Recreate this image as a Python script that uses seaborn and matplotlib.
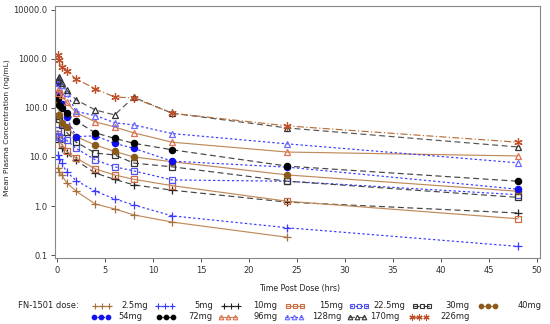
import numpy as np
import pandas as pd
import matplotlib
matplotlib.use("Agg")
import matplotlib.pyplot as plt
import seaborn as sns
from matplotlib.lines import Line2D

sns.set_style("white")
plt.rcParams['font.family'] = ['DejaVu Sans']

times = [0.083, 0.25, 0.5, 1, 2, 4, 6, 8, 12, 24, 48]
doses = ["2.5mg", "5mg", "10mg", "15mg", "22.5mg", "30mg", "40mg",
         "54mg", "72mg", "96mg", "128mg", "170mg", "226mg"]

c_2_5 = [6, 5, 4.3, 3.0, 2.0, 1.1, 0.87, 0.66, 0.47, 0.23, np.nan]
c_5 = [11, 9, 7.5, 5, 3.3, 2.0, 1.4, 1.05, 0.63, 0.36, 0.15]
c_10 = [25, 20, 15, 12, 8.5, 4.7, 3.5, 2.7, 2.1, 1.2, 0.72]
c_15 = [30, 25, 18, 13, 9.5, 5.7, 4.3, 3.5, 2.6, 1.25, 0.55]
c_22_5 = [35, 26, 24, 22, 15, 8.7, 6.3, 5.2, 3.4, 3.2, 1.7]
c_30 = [70, 60, 45, 32, 20, 12, 11, 7.5, 6.3, 3.2, 1.5]
c_40 = [145, 72, 49, 41, 26, 17.5, 13, 10, 8, 4.3, 2.0]
c_54 = [340, 200, 120, 65, 26, 27, 19, 15, 8.2, 6.2, 2.2]
c_72 = [160, 115, 100, 79, 54, 31, 24, 19, 14, 6.5, 3.2]
c_96 = [200, 250, 180, 130, 80, 52, 41, 31, 20, 12.6, 10.5]
c_128 = [330, 400, 300, 200, 85, 70, 50, 45, 30, 18.5, 7.6]
c_170 = [380, 430, 320, 235, 146, 91, 72, 165, 78, 39, 16]
c_226 = [1200, 950, 690, 570, 390, 245, 167, 160, 78, 43, 20]

series = [c_2_5, c_5, c_10, c_15, c_22_5, c_30, c_40,
          c_54, c_72, c_96, c_128, c_170, c_226]

tan = "#c08a5a"
blue = "#3a3aff"
styles = {
    "2.5mg": dict(lc=tan, mc="#a8703a", ls="-", m="+", fill=False),
    "5mg": dict(lc=blue, mc=blue, ls=(0, (2, 2)), m="+", fill=False),
    "10mg": dict(lc="#444444", mc="#222222", ls=(0, (5, 3)), m="+", fill=False),
    "15mg": dict(lc=tan, mc="#d06a40", ls="-", m="s", fill=False),
    "22.5mg": dict(lc=blue, mc="#5555ee", ls=(0, (2, 2)), m="s", fill=False),
    "30mg": dict(lc="#444444", mc="#333333", ls=(0, (5, 3)), m="s", fill=False),
    "40mg": dict(lc=tan, mc="#8a5a18", ls="-", m="o", fill=True),
    "54mg": dict(lc=blue, mc="#1010ee", ls=(0, (2, 2)), m="o", fill=True),
    "72mg": dict(lc="#444444", mc="#000000", ls=(0, (5, 3)), m="o", fill=True),
    "96mg": dict(lc=tan, mc="#e07050", ls="-", m="^", fill=False),
    "128mg": dict(lc=blue, mc="#6a6aff", ls=(0, (2, 2)), m="^", fill=False),
    "170mg": dict(lc="#555555", mc="#333333", ls=(0, (5, 3)), m="^", fill=False),
    "226mg": dict(lc="#b8703a", mc="#c0502a", ls=(0, (6, 2, 1, 2)), m=(6, 2, 0), fill=False),
}

rows = []
for d, vals in zip(doses, series):
    for t, v in zip(times, vals):
        rows.append({"dose": d, "time": t, "conc": v})
df = pd.DataFrame(rows)

W, H = 550, 324
fig = plt.figure(figsize=(5.5, 3.24), dpi=100)
ax = fig.add_axes([55 / W, 1 - 258 / H, 485 / W, 252 / H])

for d in doses:
    s = styles[d]
    sub = df[df["dose"] == d].dropna()
    msize = 6 if s["m"] in ("+", (6, 2, 0)) else 4.5
    mfc = s["mc"] if s["fill"] else "none"
    sns.lineplot(data=sub, x="time", y="conc", ax=ax, color=s["lc"],
                 linestyle=s["ls"], linewidth=0.85, marker=s["m"],
                 markersize=msize, markerfacecolor=mfc,
                 markeredgecolor=s["mc"], markeredgewidth=0.9,
                 legend=False, estimator=None, sort=True)

ax.set_yscale("log")
ax.set_ylim(0.087, 12000)
ax.set_xlim(-0.2, 50.3)
ax.set_yticks([0.1, 1, 10, 100, 1000, 10000])
ax.set_yticklabels(["0.1", "1.0", "10.0", "100.0", "1000.0", "10000.0"])
ax.yaxis.set_minor_locator(matplotlib.ticker.NullLocator())
ax.set_xticks([0, 5, 10, 15, 20, 25, 30, 35, 40, 45, 50])
ax.tick_params(axis="both", labelsize=6, length=3, width=0.6,
               direction="out", colors="#333333", pad=2.5)
ax.tick_params(axis="both", left=True, bottom=True)
for sp in ax.spines.values():
    sp.set_color("#888888")
    sp.set_linewidth(0.8)
ax.set_xlabel("Time Post Dose (hrs)", fontsize=5.7, color="#222222")
ax.xaxis.set_label_coords((300 - 55) / 485, -(288 - 258) / 252)
ax.xaxis.label.set_va("center")
ax.set_ylabel("Mean Plasma Concentration (ng/mL)", fontsize=5.4, color="#222222")
ax.yaxis.set_label_coords((7 - 55) / 485, (258 - 128) / 252)
ax.yaxis.label.set_va("center")

# legend drawn in figure pixel positions
def fx(px):
    return px / W

def fy(py):
    return 1 - py / H

fig.text(fx(18), fy(306), "FN-1501 dose:", fontsize=6, va="center",
         ha="left", color="#222222")
hx_row = [[102, 165, 231, 295, 359, 422, 488], [101, 166, 228, 294, 357, 419]]
lx_row = [[121, 194, 253, 319, 373, 445, 518], [118, 188, 253, 312, 370, 440]]
ry = [306, 316.5]
k = 0
for r in range(2):
    for c in range(len(hx_row[r])):
        d = doses[k]
        s = styles[d]
        hx = hx_row[r][c]
        y = fy(ry[r])
        mfc = s["mc"] if s["fill"] else "none"
        msize = 4.5 if s["m"] in ("+", (6, 2, 0)) else 3.3
        fig.add_artist(Line2D([fx(hx - 9), fx(hx + 9)], [y, y], color=s["lc"],
                              linestyle=s["ls"], linewidth=0.9,
                              transform=fig.transFigure))
        fig.add_artist(Line2D([fx(hx - 7), fx(hx), fx(hx + 7)], [y, y, y],
                              linestyle="none", marker=s["m"], markersize=msize,
                              markerfacecolor=mfc, markeredgecolor=s["mc"],
                              markeredgewidth=0.8, transform=fig.transFigure))
        fig.text(fx(lx_row[r][c]), y, d, fontsize=6, va="center", ha="left",
                 color="#222222")
        k += 1

fig.savefig("out.png", dpi=100)
